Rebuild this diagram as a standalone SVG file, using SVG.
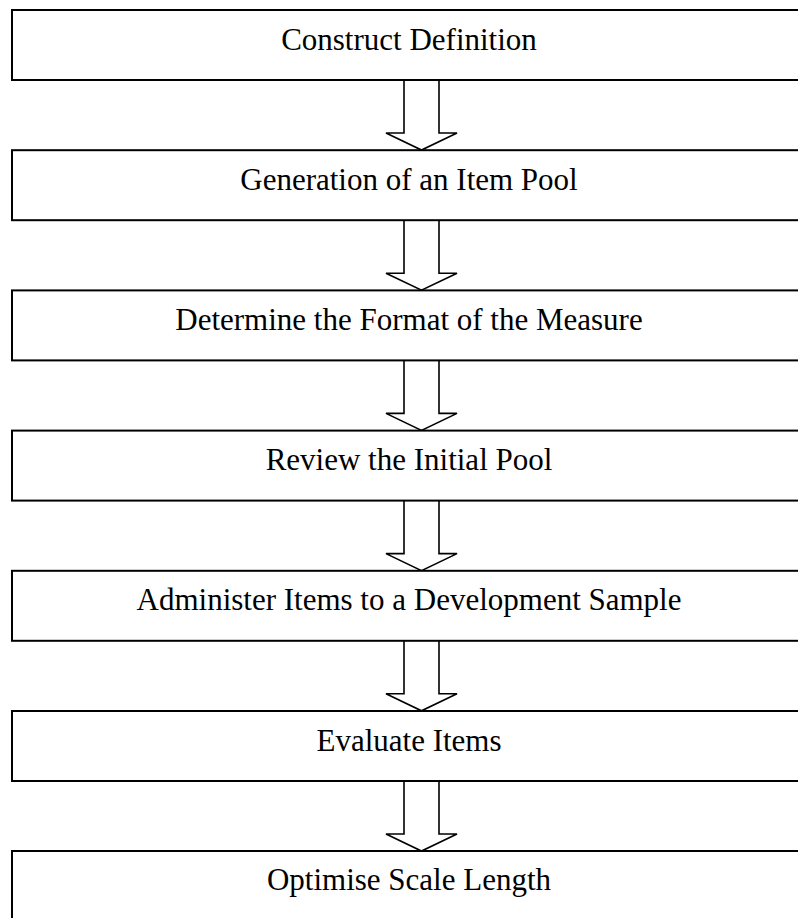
<svg xmlns="http://www.w3.org/2000/svg" width="798" height="918" viewBox="0 0 798 918">
  <style>
    .box { fill: #ffffff; stroke: #000000; stroke-width: 2; }
    .label { font-family: "Liberation Serif", "Times New Roman", serif; font-size: 31px; fill: #000000; text-anchor: middle; }
    .arrow { fill: #ffffff; stroke: #000000; stroke-width: 1.6; stroke-linejoin: miter; }
  </style>
  <defs>
    <!-- hollow block arrow, origin at the bottom edge of the upper box -->
    <path id="blockArrow" d="M404,0 V53 H386 L421.5,70 L457,53 H439 V0"/>
  </defs>
  <rect width="798" height="918" fill="#ffffff"/>

  <g id="connectors">
    <use href="#blockArrow" class="arrow" transform="translate(0,80)"/>
    <use href="#blockArrow" class="arrow" transform="translate(0,220.2)"/>
    <use href="#blockArrow" class="arrow" transform="translate(0,360.4)"/>
    <use href="#blockArrow" class="arrow" transform="translate(0,500.6)"/>
    <use href="#blockArrow" class="arrow" transform="translate(0,640.8)"/>
    <use href="#blockArrow" class="arrow" transform="translate(0,781)"/>
  </g>

  <g id="step1">
    <rect class="box" x="12" y="10" width="800" height="70"/>
    <text class="label" x="409" y="49.5">Construct Definition</text>
  </g>
  <g id="step2">
    <rect class="box" x="12" y="150.2" width="800" height="70"/>
    <text class="label" x="409" y="189.7">Generation of an Item Pool</text>
  </g>
  <g id="step3">
    <rect class="box" x="12" y="290.4" width="800" height="70"/>
    <text class="label" x="409" y="329.9">Determine the Format of the Measure</text>
  </g>
  <g id="step4">
    <rect class="box" x="12" y="430.6" width="800" height="70"/>
    <text class="label" x="409" y="470.1">Review the Initial Pool</text>
  </g>
  <g id="step5">
    <rect class="box" x="12" y="570.8" width="800" height="70"/>
    <text class="label" x="409" y="610.3">Administer Items to a Development Sample</text>
  </g>
  <g id="step6">
    <rect class="box" x="12" y="711" width="800" height="70"/>
    <text class="label" x="409" y="750.5">Evaluate Items</text>
  </g>
  <g id="step7">
    <rect class="box" x="12" y="851" width="800" height="70"/>
    <text class="label" x="409" y="889.5">Optimise Scale Length</text>
  </g>
</svg>
